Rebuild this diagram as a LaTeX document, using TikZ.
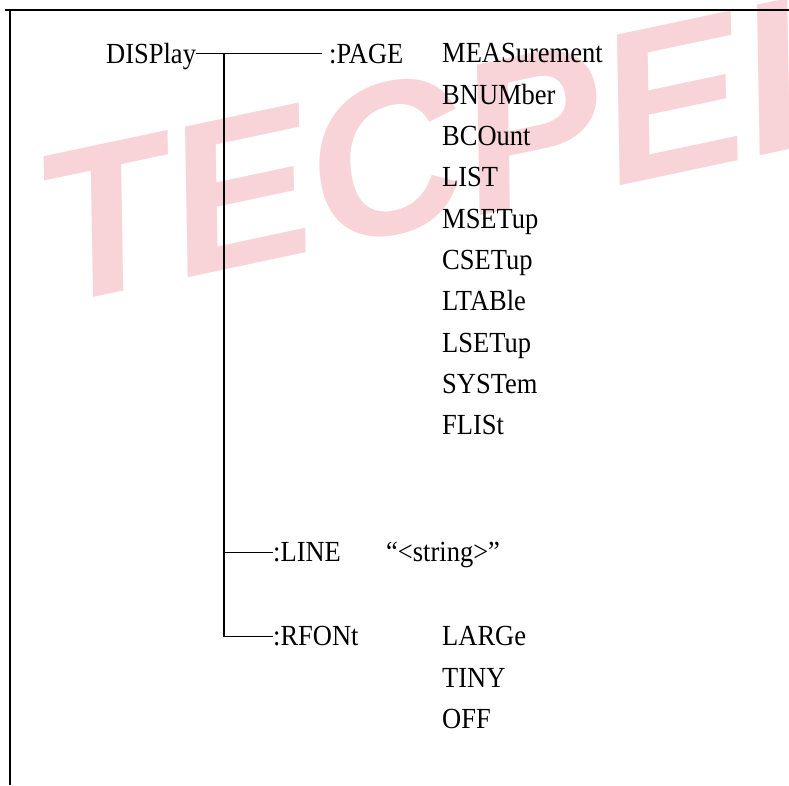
\documentclass[tikz,border=0pt]{standalone}
\usepackage{graphicx}
\usepackage{fontspec}
\setmainfont{Liberation Serif}
\newfontfamily\markfont{Liberation Sans}
\usepackage{tikz}
\usetikzlibrary{positioning}

\definecolor{wmpink}{RGB}{248,212,216}
\newcommand{\cmdfont}{\fontsize{26.5pt}{30pt}\selectfont}
\newcommand{\tall}[1]{\scalebox{1}[1.1]{#1}}

\begin{document}
\begin{tikzpicture}[x=1pt, y=-1pt,
    lbl/.style={anchor=west, inner sep=0pt, text height=19.3pt, text depth=0pt, font=\cmdfont},
    wire/.style={line width=1.3pt},
    wmark/.style={inner sep=0pt, text=wmpink, font={\markfont\bfseries\itshape\fontsize{215pt}{215pt}\selectfont}}]

    \useasboundingbox (0,0) rectangle (789,785);

    % Watermark
    \begin{scope}
        \clip (0,0) rectangle (789,785);
        \node[wmark, rotate=12] (logo) at (455,145) {TECPEL};
    \end{scope}

    % Frame
    \draw[line width=2pt] (5,10) -- (789,10);
    \draw[line width=2pt] (10,10) -- (10,785);

    % Root and subsystems
    \node[lbl] (disp) at (106,53.5) {\tall{DISPlay}};
    \node[lbl] (page) at (329,53.5) {\tall{:PAGE}};
    \node[lbl] (line) at (273,552.3) {\tall{:LINE}};
    \node[lbl] (rfont) at (273,636.3) {\tall{:RFONt}};

    % Parameters
    \foreach \txt [count=\i from 0] in {MEASurement,BNUMber,BCOunt,LIST,MSETup,CSETup,LTABle,LSETup,SYSTem,FLISt}
        \node[lbl] (pg\i) at (442,53.3+41.3*\i) {\tall{\txt}};
    \node[lbl] (str) at (386,552.3) {\tall{``<string>''}};
    \foreach \txt [count=\i from 0] in {LARGe,TINY,OFF}
        \node[lbl] (rf\i) at (442,636.3+41.3*\i) {\tall{\txt}};

    % Tree
    \coordinate (jn) at (224,53.5);
    \draw[wire] (disp.east) -- ([xshift=-7pt]page.west);
    \draw[wire] (jn) |- (line.west);
    \draw[wire] (jn) |- (rfont.west);

\end{tikzpicture}
\end{document}
